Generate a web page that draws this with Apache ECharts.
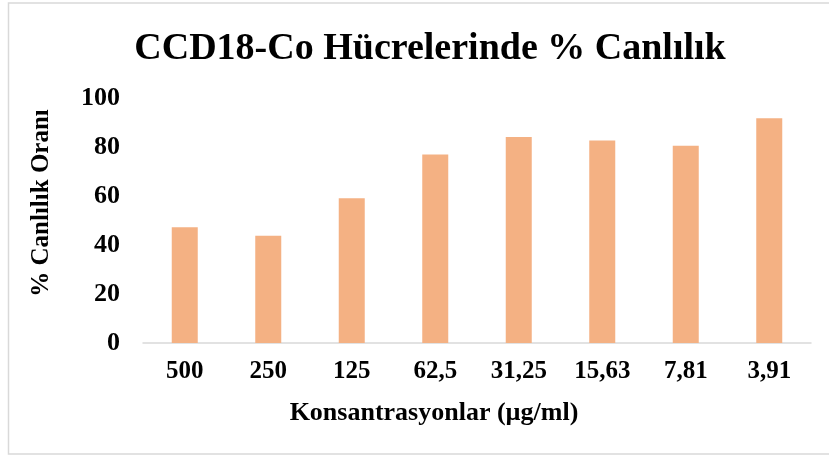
<!DOCTYPE html>
<html>
<head>
<meta charset="utf-8">
<script src="https://cdn.jsdelivr.net/npm/echarts@6/dist/echarts.min.js"></script>
<style>html,body{margin:0;padding:0;background:#fff}#c{width:829px;height:457px}</style>
</head>
<body>
<div id="c"></div>
<script>
const categories = ["500", "250", "125", "62,5", "31,25", "15,63", "7,81", "3,91"];
const viability = [47.2, 43.8, 59.1, 76.9, 84.1, 82.7, 80.5, 91.7];
const titleText = "CCD18-Co Hücrelerinde % Canlılık";
const xName = "Konsantrasyonlar (µg/ml)";
const yName = "% Canlılık Oranı";

const FONT = '"Liberation Serif", "Times New Roman", serif';
const chart = echarts.init(document.getElementById('c'), null, {renderer: 'canvas'});
chart.setOption({
  animation: false,
  backgroundColor: '#ffffff',
  title: {
    text: titleText,
    left: 425, top: 25, textAlign: 'center',
    textStyle: {fontFamily: FONT, fontWeight: 'bold', fontSize: 38, color: '#000'}
  },
  grid: {left: 143, right: 18, top: 98, bottom: 114, containLabel: false},
  xAxis: {
    type: 'category',
    data: categories,
    axisLine: {lineStyle: {color: '#D9D9D9', width: 1.5}},
    axisTick: {show: false},
    axisLabel: {fontFamily: FONT, fontWeight: 'bold', fontSize: 25, color: '#000', margin: 16}
  },
  yAxis: {
    type: 'value', min: 0, max: 100, interval: 20,
    axisLine: {show: false}, axisTick: {show: false},
    splitLine: {show: false},
    axisLabel: {fontFamily: FONT, fontWeight: 'bold', fontSize: 26, color: '#000', margin: 23}
  },
  graphic: [
    {type: 'rect', shape: {x: 8.5, y: 3, width: 830, height: 451}, style: {fill: 'none', stroke: '#D9D9D9', lineWidth: 1.5}, silent: true},
    {type: 'text', x: 42, y: 203, rotation: Math.PI / 2,
     style: {text: yName, font: 'bold 25px ' + FONT, fill: '#000', textAlign: 'center', textVerticalAlign: 'middle'}},
    {type: 'text', x: 434, y: 413,
     style: {text: xName, font: 'bold 26px ' + FONT, fill: '#000', textAlign: 'center', textVerticalAlign: 'middle'}}
  ],
  series: [{
    type: 'bar',
    data: viability,
    barWidth: 26,
    itemStyle: {color: '#F4B183'}
  }]
});
</script>
</body>
</html>
